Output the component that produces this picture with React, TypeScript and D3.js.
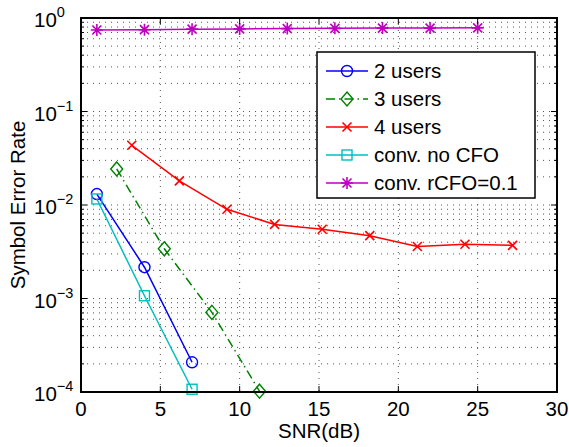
import React from 'react'
import * as d3 from 'd3'

// SER vs SNR readings
const snr2 = [1, 4, 7]
const ser2 = [0.0131, 0.00216, 0.000208]
const snr3 = [2.25, 5.25, 8.25, 11.25]
const ser3 = [0.0243, 0.0034, 0.00071, 0.000102]
const snr4 = [3.2, 6.2, 9.2, 12.2, 15.2, 18.2, 21.2, 24.2, 27.2]
const ser4 = [0.0435, 0.0181, 0.009, 0.0062, 0.0055, 0.0047, 0.0036, 0.0038, 0.0037]
const snrConv = [1, 4, 7]
const serConv = [0.0116, 0.00107, 0.000107]
const snrCfo = [1, 4, 7, 10, 13, 16, 19, 22, 25]
const serCfo = [0.745, 0.75, 0.76, 0.765, 0.77, 0.775, 0.78, 0.78, 0.785]

const xTicks = [0, 5, 10, 15, 20, 25, 30]
const yExps = [0, -1, -2, -3, -4]
const legendLabels = ['2 users', '3 users', '4 users', 'conv. no CFO', 'conv. rCFO=0.1']

const W = 569
const H = 447
const m = { left: 81, right: 557, top: 18, bottom: 392 }
const FONT = 'Liberation Sans, Arial, Helvetica, sans-serif'
const FS = 20.5

const x = d3.scaleLinear().domain([0, 30]).range([m.left, m.right])
const y = d3.scaleLog().domain([1e-4, 1]).range([m.bottom, m.top])

type Series = { xs: number[]; ys: number[]; color: string; dash?: string; marker: string }
const series: Series[] = [
  { xs: snr2, ys: ser2, color: '#0000ff', marker: 'circle' },
  { xs: snr3, ys: ser3, color: '#008000', dash: '9,4,1.5,4', marker: 'diamond' },
  { xs: snr4, ys: ser4, color: '#ff0000', marker: 'cross' },
  { xs: snrConv, ys: serConv, color: '#00bfbf', marker: 'square' },
  { xs: snrCfo, ys: serCfo, color: '#bf00bf', marker: 'star' },
]

const Marker = ({ kind, cx, cy, color }: { kind: string; cx: number; cy: number; color: string }) => {
  const p = { fill: 'none', stroke: color, strokeWidth: 1.4 }
  if (kind === 'circle') return <circle cx={cx} cy={cy} r={5.5} {...p} />
  if (kind === 'square') return <rect x={cx - 5} y={cy - 5} width={10} height={10} {...p} />
  if (kind === 'diamond')
    return <path d={`M${cx},${cy - 7}L${cx + 6},${cy}L${cx},${cy + 7}L${cx - 6},${cy}Z`} {...p} />
  if (kind === 'cross')
    return <path d={`M${cx - 4.5},${cy - 4.5}L${cx + 4.5},${cy + 4.5}M${cx - 4.5},${cy + 4.5}L${cx + 4.5},${cy - 4.5}`} {...p} strokeWidth={1.6} />
  // star: + and x
  return (
    <path
      d={`M${cx - 6},${cy}L${cx + 6},${cy}M${cx},${cy - 6}L${cx},${cy + 6}M${cx - 4.5},${cy - 4.5}L${cx + 4.5},${cy + 4.5}M${cx - 4.5},${cy + 4.5}L${cx + 4.5},${cy - 4.5}`}
      {...p}
      strokeWidth={1.6}
    />
  )
}

export default function App() {
  const minorY: number[] = []
  for (let e = -4; e < 0; e++) for (let k = 2; k <= 9; k++) minorY.push(k * Math.pow(10, e))
  const majorY = yExps.map(e => Math.pow(10, e))
  const line = d3.line<[number, number]>().x(d => x(d[0])).y(d => y(d[1]))

  const lg = { x0: 317, y0: 52, x1: 535, y1: 198, row0: 71, rowH: 28 }

  return (
    <svg width={W} height={H} style={{ position: 'absolute', left: 0, top: 0, background: '#fff' }} fontFamily={FONT}>
      <rect x={0} y={0} width={W} height={H} fill="#fff" />
      {/* grid */}
      <g stroke="#555" strokeWidth={1} strokeDasharray="1,5">
        {xTicks.slice(1, -1).map(t => (
          <line key={'gx' + t} x1={x(t)} x2={x(t)} y1={m.top} y2={m.bottom} />
        ))}
        {[...minorY, ...majorY.slice(1, -1)].map(v => (
          <line key={'gy' + v} x1={m.left} x2={m.right} y1={y(v)} y2={y(v)} />
        ))}
      </g>
      {/* series */}
      {series.map((s, i) => {
        const pts = s.xs.map((v, j) => [v, s.ys[j]] as [number, number])
        return (
          <g key={i}>
            <path d={line(pts) || ''} fill="none" stroke={s.color} strokeWidth={1.5} strokeDasharray={s.dash} />
            {pts.map((p, j) => (
              <Marker key={j} kind={s.marker} cx={x(p[0])} cy={y(p[1])} color={s.color} />
            ))}
          </g>
        )
      })}
      {/* ticks */}
      <g stroke="#000" strokeWidth={1}>
        {xTicks.map(t => (
          <g key={'tx' + t}>
            <line x1={x(t)} x2={x(t)} y1={m.bottom} y2={m.bottom - 6} />
            <line x1={x(t)} x2={x(t)} y1={m.top} y2={m.top + 6} />
          </g>
        ))}
        {majorY.map(v => (
          <g key={'ty' + v}>
            <line x1={m.left} x2={m.left + 6} y1={y(v)} y2={y(v)} />
            <line x1={m.right} x2={m.right - 6} y1={y(v)} y2={y(v)} />
          </g>
        ))}
        {minorY.map(v => (
          <g key={'tm' + v}>
            <line x1={m.left} x2={m.left + 3} y1={y(v)} y2={y(v)} />
            <line x1={m.right} x2={m.right - 3} y1={y(v)} y2={y(v)} />
          </g>
        ))}
      </g>
      <rect x={m.left} y={m.top} width={m.right - m.left} height={m.bottom - m.top} fill="none" stroke="#000" strokeWidth={2} />
      {/* tick labels */}
      {xTicks.map(t => (
        <text key={'lx' + t} x={x(t)} y={416} textAnchor="middle" fontSize={FS}>
          {t}
        </text>
      ))}
      {yExps.map(e => (
        <text key={'ly' + e} x={34} y={y(Math.pow(10, e)) + 9} fontSize={FS}>
          10
          <tspan dy={-10} fontSize={14.5}>
            {e === 0 ? '0' : '\u2212' + Math.abs(e)}
          </tspan>
        </text>
      ))}
      <text x={(m.left + m.right) / 2} y={438} textAnchor="middle" fontSize={FS}>
        SNR(dB)
      </text>
      <text transform={`translate(25,${(m.top + m.bottom) / 2}) rotate(-90)`} textAnchor="middle" fontSize={FS}>
        Symbol Error Rate
      </text>
      {/* legend */}
      <rect x={lg.x0} y={lg.y0} width={lg.x1 - lg.x0} height={lg.y1 - lg.y0} fill="#fff" stroke="#000" strokeWidth={1.5} />
      {series.map((s, i) => {
        const ry = lg.row0 + i * lg.rowH
        return (
          <g key={'lg' + i}>
            <line x1={326} x2={368} y1={ry} y2={ry} stroke={s.color} strokeWidth={1.5} strokeDasharray={s.dash} />
            <Marker kind={s.marker} cx={347} cy={ry} color={s.color} />
            <text x={374} y={ry + 7} fontSize={FS}>
              {legendLabels[i]}
            </text>
          </g>
        )
      })}
    </svg>
  )
}
